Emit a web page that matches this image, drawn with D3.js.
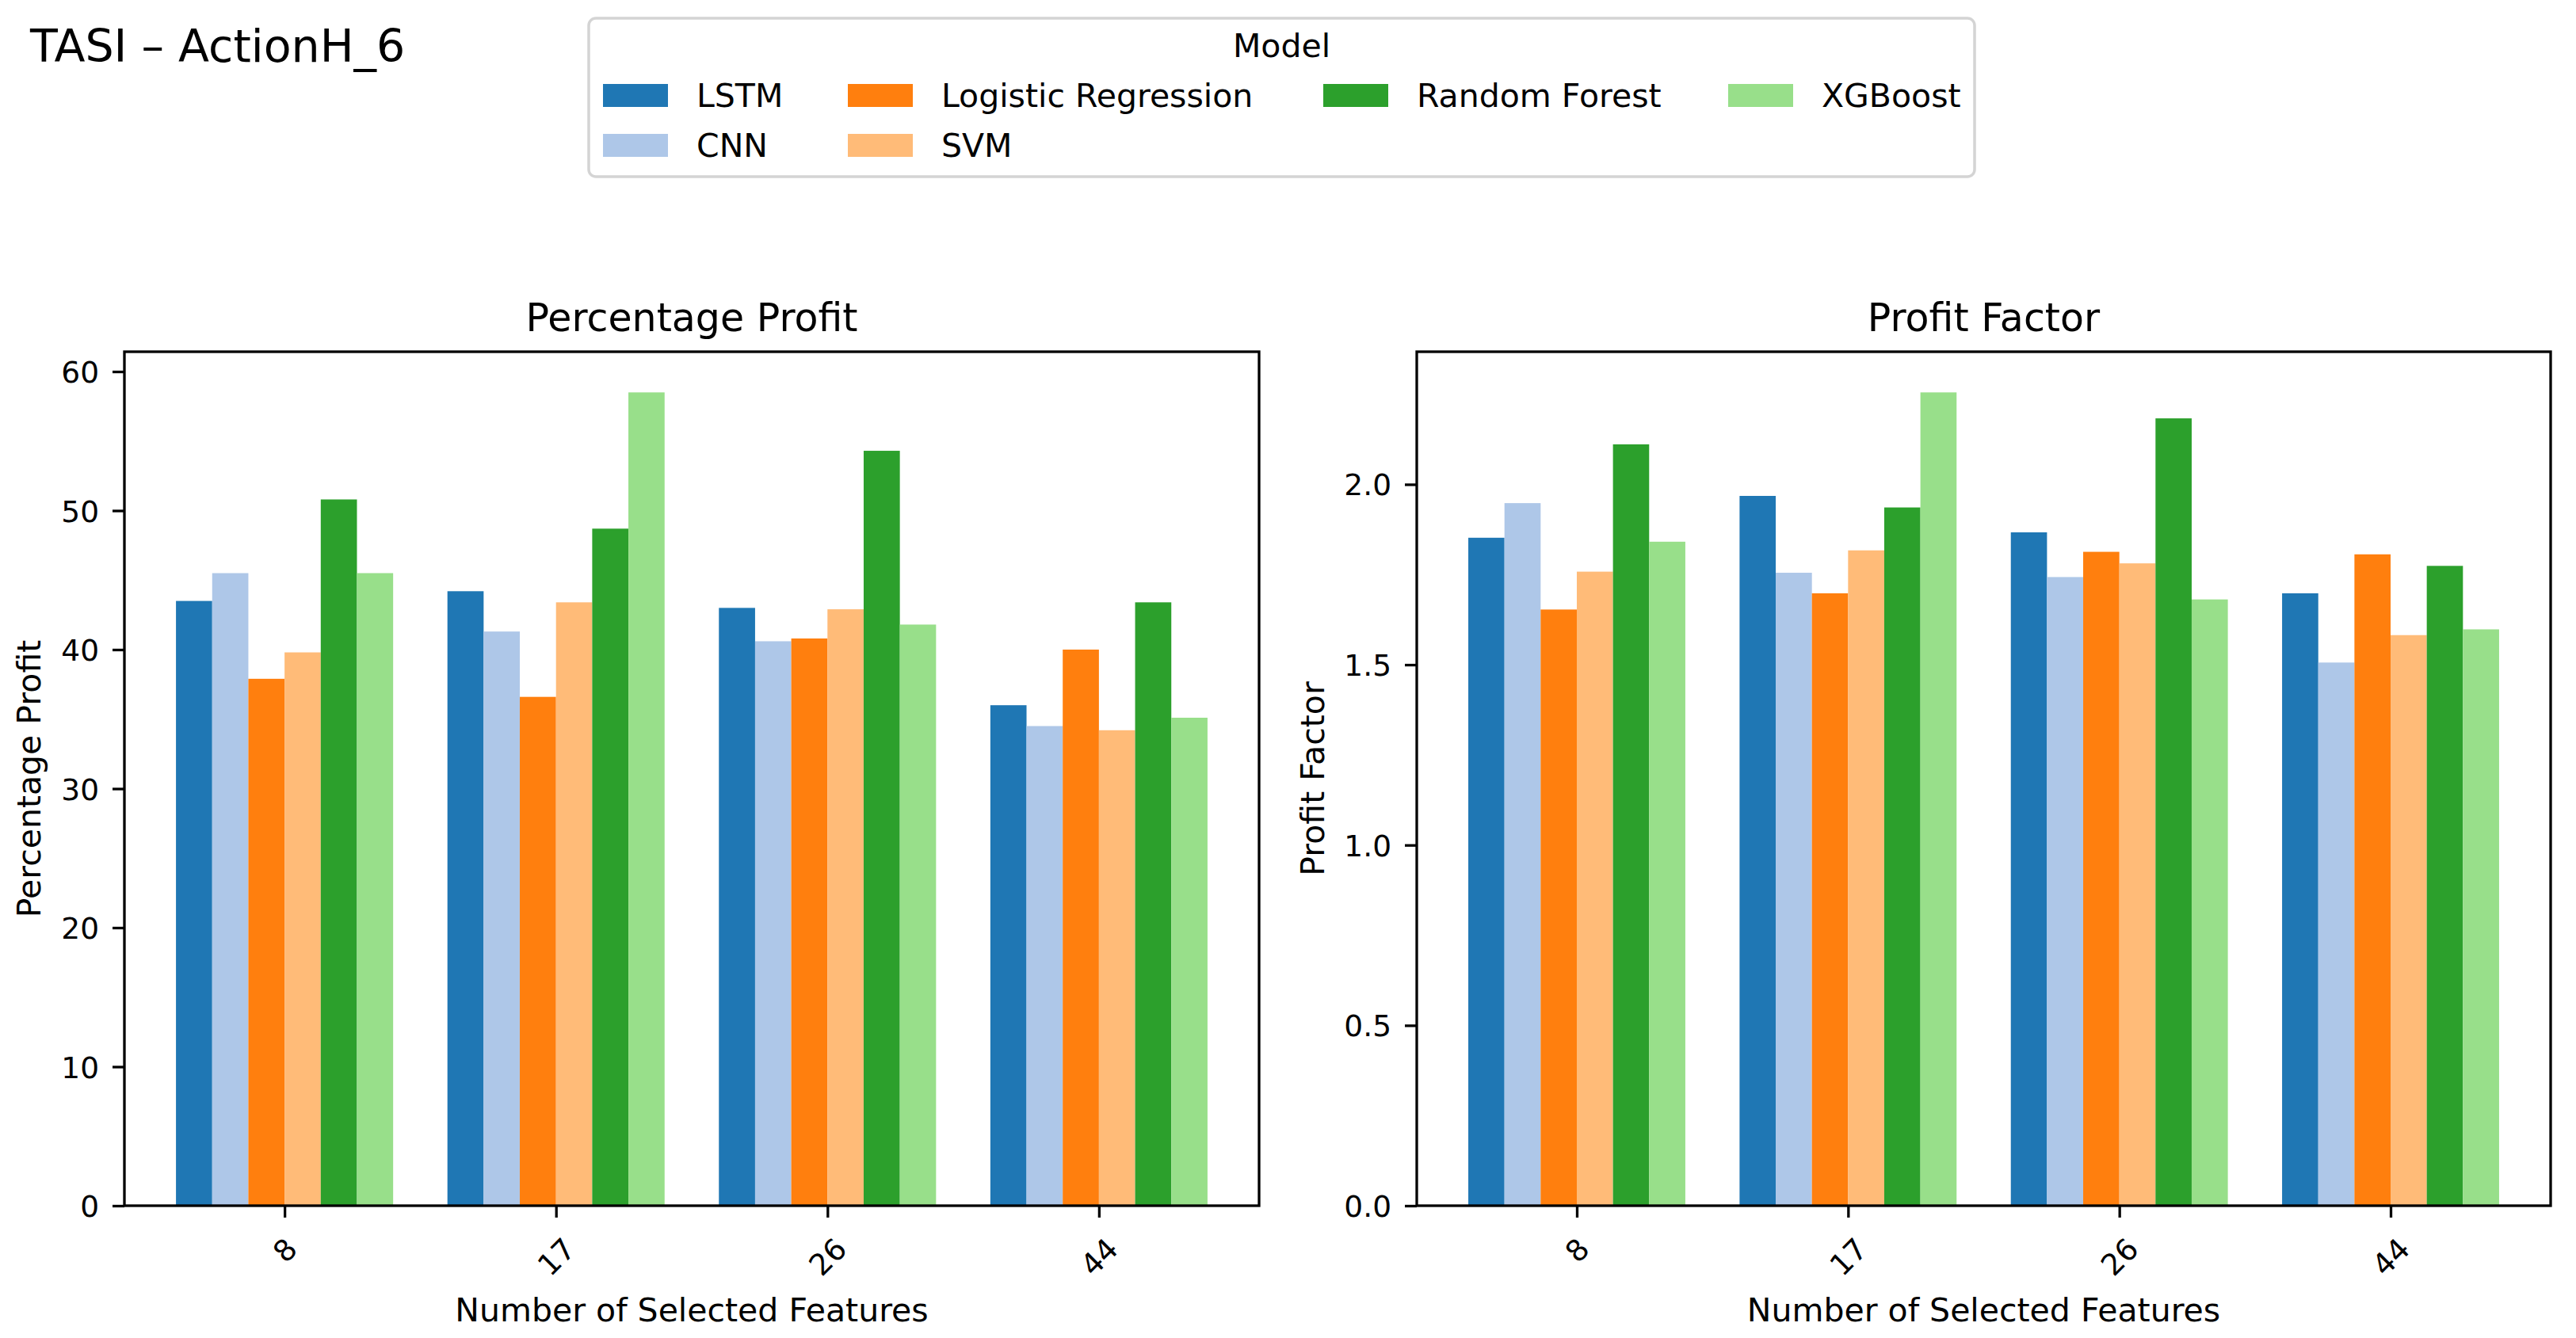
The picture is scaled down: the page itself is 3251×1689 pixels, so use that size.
<!DOCTYPE html>
<html>
<head>
<meta charset="utf-8">
<script src="https://cdn.jsdelivr.net/npm/d3@7"></script>
<style>
  body { margin: 0; background: #fff; }
  text { font-family: "DejaVu Sans", sans-serif; fill: #000; }
</style>
</head>
<body>
<div id="chart"></div>
<script>
// data
var features = ["8", "17", "26", "44"];
var models = ["LSTM", "CNN", "Logistic Regression", "SVM", "Random Forest", "XGBoost"];
var colors = ["#1f77b4", "#aec7e8", "#ff7f0e", "#ffbb78", "#2ca02c", "#98df8a"];

// one row per model, one value per feature count
var pctProfit = [
  [43.5, 44.2, 43.0, 36.0],
  [45.5, 41.3, 40.6, 34.5],
  [37.9, 36.6, 40.8, 40.0],
  [39.8, 43.4, 42.9, 34.2],
  [50.8, 48.7, 54.3, 43.4],
  [45.5, 58.5, 41.8, 35.1]
];
var profitFactor = [
  [1.852, 1.968, 1.867, 1.698],
  [1.948, 1.755, 1.743, 1.506],
  [1.653, 1.698, 1.813, 1.806],
  [1.758, 1.817, 1.781, 1.582],
  [2.111, 1.936, 2.183, 1.774],
  [1.841, 2.255, 1.681, 1.598]
];
var pctTicks = [0, 10, 20, 30, 40, 50, 60];
var pfTicks = [0, 0.5, 1.0, 1.5, 2.0];

var W = 3251, H = 1689;
var svg = d3.select("#chart").append("svg")
    .attr("width", W)
    .attr("height", H);

svg.append("rect").attr("width", W).attr("height", H).attr("fill", "#fff");

var plotTop = 444, plotBottom = 1522;
var tickFont = 37.5, labelFont = 41, titleFont = 49;
var spineW = 3.3;

// one panel of grouped bars
function drawPanel(left, right, data, ticks, fmt, title, ylab) {
  var nG = features.length, nM = models.length;
  var bw = 0.8 / nM;
  var pad = 0.05 * (nG - 1 + 0.8);
  var x = d3.scaleLinear()
      .domain([-0.4 - pad, nG - 1 + 0.4 + pad])
      .range([left, right]);
  var ymax = d3.max(data, function(r) { return d3.max(r); }) * 1.05;
  var y = d3.scaleLinear().domain([0, ymax]).range([plotBottom, plotTop]);

  var g = svg.append("g");

  var bars = [];
  for (var j = 0; j < nM; j++) {
    for (var i = 0; i < nG; i++) {
      bars.push({m: j, f: i, v: data[j][i]});
    }
  }
  g.selectAll(".bar")
      .data(bars)
    .enter()
      .append("rect")
      .attr("class", "bar")
      .attr("x", function(d) { return x(d.f - 0.4 + d.m * bw); })
      .attr("width", function(d) { return x(bw) - x(0); })
      .attr("y", function(d) { return y(d.v); })
      .attr("height", function(d) { return y(0) - y(d.v); })
      .attr("fill", function(d) { return colors[d.m]; });

  // y axis
  var ya = g.append("g")
      .attr("transform", "translate(" + left + ",0)")
      .call(d3.axisLeft(y).tickValues(ticks).tickFormat(fmt).tickSize(15).tickPadding(17));
  ya.select(".domain").remove();
  ya.selectAll(".tick line").attr("stroke", "#000").attr("stroke-width", spineW);
  ya.selectAll(".tick text")
      .attr("font-size", tickFont)
      .attr("font-family", "DejaVu Sans")
      .attr("fill", "#000")
      .attr("dy", "0.36em");

  // x axis
  var xa = g.append("g")
      .attr("transform", "translate(0," + plotBottom + ")")
      .call(d3.axisBottom(x).tickValues(d3.range(nG))
            .tickFormat(function(i) { return features[i]; }).tickSize(15));
  xa.select(".domain").remove();
  xa.selectAll(".tick line").attr("stroke", "#000").attr("stroke-width", spineW);
  xa.selectAll(".tick text")
      .attr("font-size", tickFont)
      .attr("font-family", "DejaVu Sans")
      .attr("fill", "#000")
      .attr("dy", null)
      .attr("y", 0)
      .attr("dominant-baseline", "central")
      .each(function() {
        var bb = this.getBBox();
        var half = (bb.width + tickFont * 1.05) / (2 * Math.SQRT2);
        d3.select(this).attr("transform", "translate(0," + (34 + half) + ") rotate(-45)");
      });

  // frame
  g.append("rect")
      .attr("x", left).attr("y", plotTop)
      .attr("width", right - left).attr("height", plotBottom - plotTop)
      .attr("fill", "none")
      .attr("stroke", "#000")
      .attr("stroke-width", spineW);

  var cx = (left + right) / 2;
  g.append("text")
      .attr("x", cx).attr("y", 418)
      .attr("text-anchor", "middle")
      .attr("font-size", titleFont)
      .text(title);

  g.append("text")
      .attr("x", cx).attr("y", 1668)
      .attr("text-anchor", "middle")
      .attr("font-size", labelFont)
      .text("Number of Selected Features");

  // y label sits left of the widest tick label
  var minX = d3.min(ya.selectAll(".tick text").nodes(), function(n) {
    return n.getBBox().x;
  });
  var lx = left + minX - 16;
  g.append("text")
      .attr("transform", "translate(" + lx + "," + ((plotTop + plotBottom) / 2) + ") rotate(-90)")
      .attr("text-anchor", "middle")
      .attr("font-size", labelFont)
      .attr("dy", "-0.24em")
      .text(ylab);
}

drawPanel(157, 1589, pctProfit, pctTicks, d3.format("d"), "Percentage Profit", "Percentage Profit");
drawPanel(1788, 3219, profitFactor, pfTicks, d3.format(".1f"), "Profit Factor", "Profit Factor");

// suptitle
svg.append("text")
    .attr("x", 38).attr("y", 78)
    .attr("font-size", 57)
    .text("TASI \u2013 ActionH_6");

// legend
var legX = 743, legY = 23, legW = 2492 - 743, legH = 200;
var leg = svg.append("g");
leg.append("rect")
    .attr("x", legX).attr("y", legY)
    .attr("width", legW).attr("height", legH)
    .attr("rx", 9)
    .attr("fill", "#fff")
    .attr("stroke", "#d4d4d4")
    .attr("stroke-width", 3.5);
leg.append("text")
    .attr("x", legX + legW / 2).attr("y", 72)
    .attr("text-anchor", "middle")
    .attr("font-size", labelFont)
    .text("Model");

// matplotlib fills 4 columns as 2,2,1,1
var colX = [761, 1070, 1670, 2181];
var rowY = [106, 169];
var legCol = [0, 0, 1, 1, 2, 3];
var legRow = [0, 1, 0, 1, 0, 0];
var items = models.map(function(m, i) {
  return {name: m, color: colors[i], col: legCol[i], row: legRow[i]};
});
var li = leg.selectAll(".legitem")
    .data(items)
  .enter()
    .append("g")
    .attr("class", "legitem")
    .attr("transform", function(d) {
      return "translate(" + colX[d.col] + "," + rowY[d.row] + ")";
    });
li.append("rect")
    .attr("width", 82).attr("height", 29)
    .attr("fill", function(d) { return d.color; });
li.append("text")
    .attr("x", 118).attr("y", 29)
    .attr("font-size", labelFont)
    .text(function(d) { return d.name; });
</script>
</body>
</html>
